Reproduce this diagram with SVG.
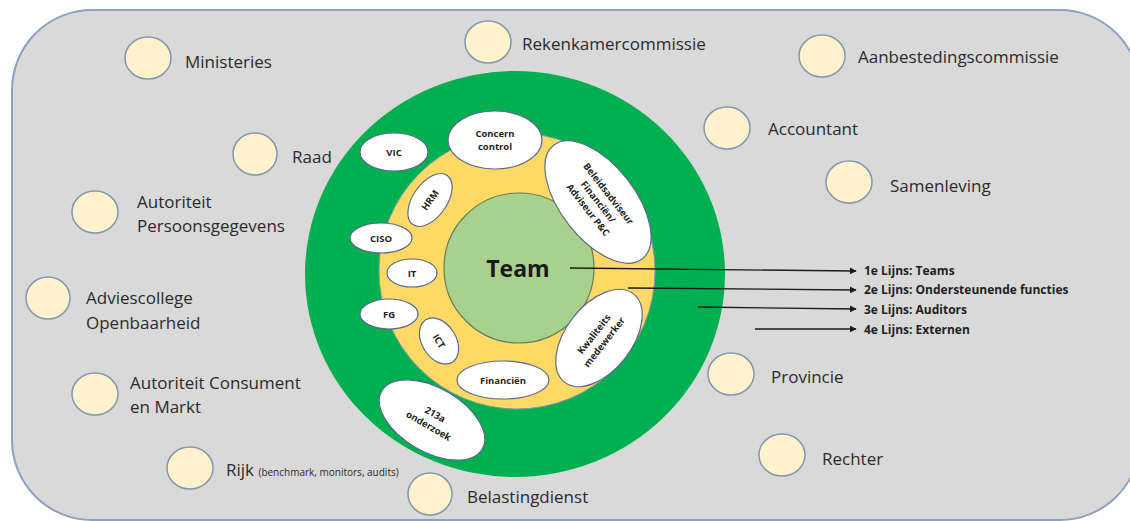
<svg xmlns="http://www.w3.org/2000/svg" width="1130" height="521" viewBox="0 0 1130 521">
<defs>
<style>
.bg{fill:#d9d9d9;stroke:#8ea0c0;stroke-width:2}
.ext{fill:#fff2cc;stroke:#8496b0;stroke-width:1.5}
.lbl{font-family:"Open Sans","Liberation Sans",sans-serif;font-size:17px;fill:#2b2b2b}
.small{font-size:10px}
.wn{fill:#ffffff;stroke:#5b6b8c;stroke-width:1.2}
.in{font-family:"Open Sans","Liberation Sans",sans-serif;font-size:9.5px;font-weight:bold;fill:#1f1f1f;text-anchor:middle}
.line{font-family:"Open Sans","Liberation Sans",sans-serif;font-size:12px;font-weight:bold;fill:#1f1f1f}
.conn{stroke:#1a1a1a;stroke-width:1.3;fill:none;marker-end:url(#ah)}
</style>
<marker id="ah" viewBox="0 0 10 10" refX="9" refY="5" markerWidth="7" markerHeight="7" orient="auto" markerUnits="userSpaceOnUse">
<path d="M0,0 L10,5 L0,10 z" fill="#1a1a1a"/>
</marker>
</defs>
<rect class="bg" x="12" y="10" width="1128" height="510" rx="80" ry="80"/>

<g id="ring-outer"><ellipse cx="515" cy="274" rx="210" ry="203" fill="#00b050"/></g>
<g id="ring-inner"><circle cx="517" cy="271" r="138" fill="#ffd966" stroke="#8496b0" stroke-width="1"/></g>
<g id="team"><circle cx="519" cy="268" r="75" fill="#a9d18e" stroke="#5f7f58" stroke-width="1.2"/>
<text x="518" y="277" font-family="'Open Sans','Liberation Sans',sans-serif" font-size="23" font-weight="bold" fill="#1a1a1a" text-anchor="middle">Team</text></g>

<g id="vic"><ellipse class="wn" cx="394" cy="152" rx="34" ry="19"/><text class="in" x="394" y="156">VIC</text></g>
<g id="concern"><ellipse class="wn" cx="495" cy="140" rx="47" ry="29"/><text class="in" x="495" y="137">Concern</text><text class="in" x="495" y="150">control</text></g>
<g id="beleid"><g transform="translate(598,202) rotate(52)"><ellipse class="wn" cx="0" cy="0" rx="72" ry="37"/><text class="in" x="0" y="-10">Beleidsadviseur</text><text class="in" x="0" y="3">Financiën/</text><text class="in" x="0" y="16">Adviseur P&amp;C</text></g></g>
<g id="hrm"><g transform="translate(430,200) rotate(-55)"><ellipse class="wn" cx="0" cy="0" rx="30" ry="17"/><text class="in" x="0" y="3.5">HRM</text></g></g>
<g id="ciso"><ellipse class="wn" cx="381" cy="238" rx="31" ry="15"/><text class="in" x="381" y="241.5">CISO</text></g>
<g id="it"><ellipse class="wn" cx="412" cy="273" rx="25" ry="14"/><text class="in" x="412" y="276.5">IT</text></g>
<g id="fg"><ellipse class="wn" cx="389" cy="314" rx="29" ry="15"/><text class="in" x="389" y="317.5">FG</text></g>
<g id="ict"><g transform="translate(439,341) rotate(58)"><ellipse class="wn" cx="0" cy="0" rx="25" ry="17"/><text class="in" x="0" y="3.5">ICT</text></g></g>
<g id="financien"><ellipse class="wn" cx="503" cy="380" rx="46" ry="19"/><text class="in" x="503" y="383.5">Financiën</text></g>
<g id="kwaliteit"><g transform="translate(599,338) rotate(-52)"><ellipse class="wn" cx="0" cy="0" rx="56" ry="33"/><text class="in" x="0" y="-3">Kwaliteits</text><text class="in" x="0" y="10">medewerker</text></g></g>
<g id="onderzoek"><g transform="translate(432,420) rotate(30)"><ellipse class="wn" cx="0" cy="0" rx="58" ry="32"/><text class="in" x="0" y="-3">213a</text><text class="in" x="0" y="10">onderzoek</text></g></g>

<g id="connectors">
<path class="conn" d="M570,268 L856,271"/>
<path class="conn" d="M628,288 L856,290"/>
<path class="conn" d="M698,307 L856,309"/>
<path class="conn" d="M755,329 L856,329"/>
</g>
<g id="lines-legend">
<text class="line" x="864" y="275">1e Lijns: Teams</text>
<text class="line" x="864" y="294">2e Lijns: Ondersteunende functies</text>
<text class="line" x="864" y="314">3e Lijns: Auditors</text>
<text class="line" x="864" y="334">4e Lijns: Externen</text>
</g>

<g id="ministeries"><ellipse class="ext" cx="148" cy="58" rx="23" ry="21"/><text class="lbl" x="185" y="68">Ministeries</text></g>
<g id="rekenkamer"><ellipse class="ext" cx="488" cy="42" rx="23" ry="21"/><text class="lbl" x="522" y="50">Rekenkamercommissie</text></g>
<g id="aanbesteding"><ellipse class="ext" cx="822" cy="56" rx="23" ry="21"/><text class="lbl" x="858" y="63">Aanbestedingscommissie</text></g>
<g id="raad"><ellipse class="ext" cx="255" cy="154" rx="22" ry="21"/><text class="lbl" x="292" y="163">Raad</text></g>
<g id="accountant"><ellipse class="ext" cx="727" cy="128" rx="23" ry="21"/><text class="lbl" x="768" y="135">Accountant</text></g>
<g id="samenleving"><ellipse class="ext" cx="849" cy="182" rx="23" ry="21"/><text class="lbl" x="890" y="192">Samenleving</text></g>
<g id="ap"><ellipse class="ext" cx="95" cy="212" rx="23" ry="21"/><text class="lbl" x="137" y="208">Autoriteit</text><text class="lbl" x="137" y="232">Persoonsgegevens</text></g>
<g id="ao"><ellipse class="ext" cx="48" cy="298" rx="22" ry="21"/><text class="lbl" x="86" y="304">Adviescollege</text><text class="lbl" x="86" y="329">Openbaarheid</text></g>
<g id="acm"><ellipse class="ext" cx="95" cy="394" rx="23" ry="21"/><text class="lbl" x="130" y="389">Autoriteit Consument</text><text class="lbl" x="130" y="413">en Markt</text></g>
<g id="rijk"><ellipse class="ext" cx="190" cy="468" rx="23" ry="21"/><text class="lbl" x="226" y="476">Rijk <tspan class="small">(benchmark, monitors, audits)</tspan></text></g>
<g id="belasting"><ellipse class="ext" cx="430" cy="494" rx="22" ry="21"/><text class="lbl" x="467" y="503">Belastingdienst</text></g>
<g id="provincie"><ellipse class="ext" cx="731" cy="374" rx="23" ry="21"/><text class="lbl" x="771" y="383">Provincie</text></g>
<g id="rechter"><ellipse class="ext" cx="782" cy="455" rx="23" ry="21"/><text class="lbl" x="822" y="465">Rechter</text></g>
</svg>
